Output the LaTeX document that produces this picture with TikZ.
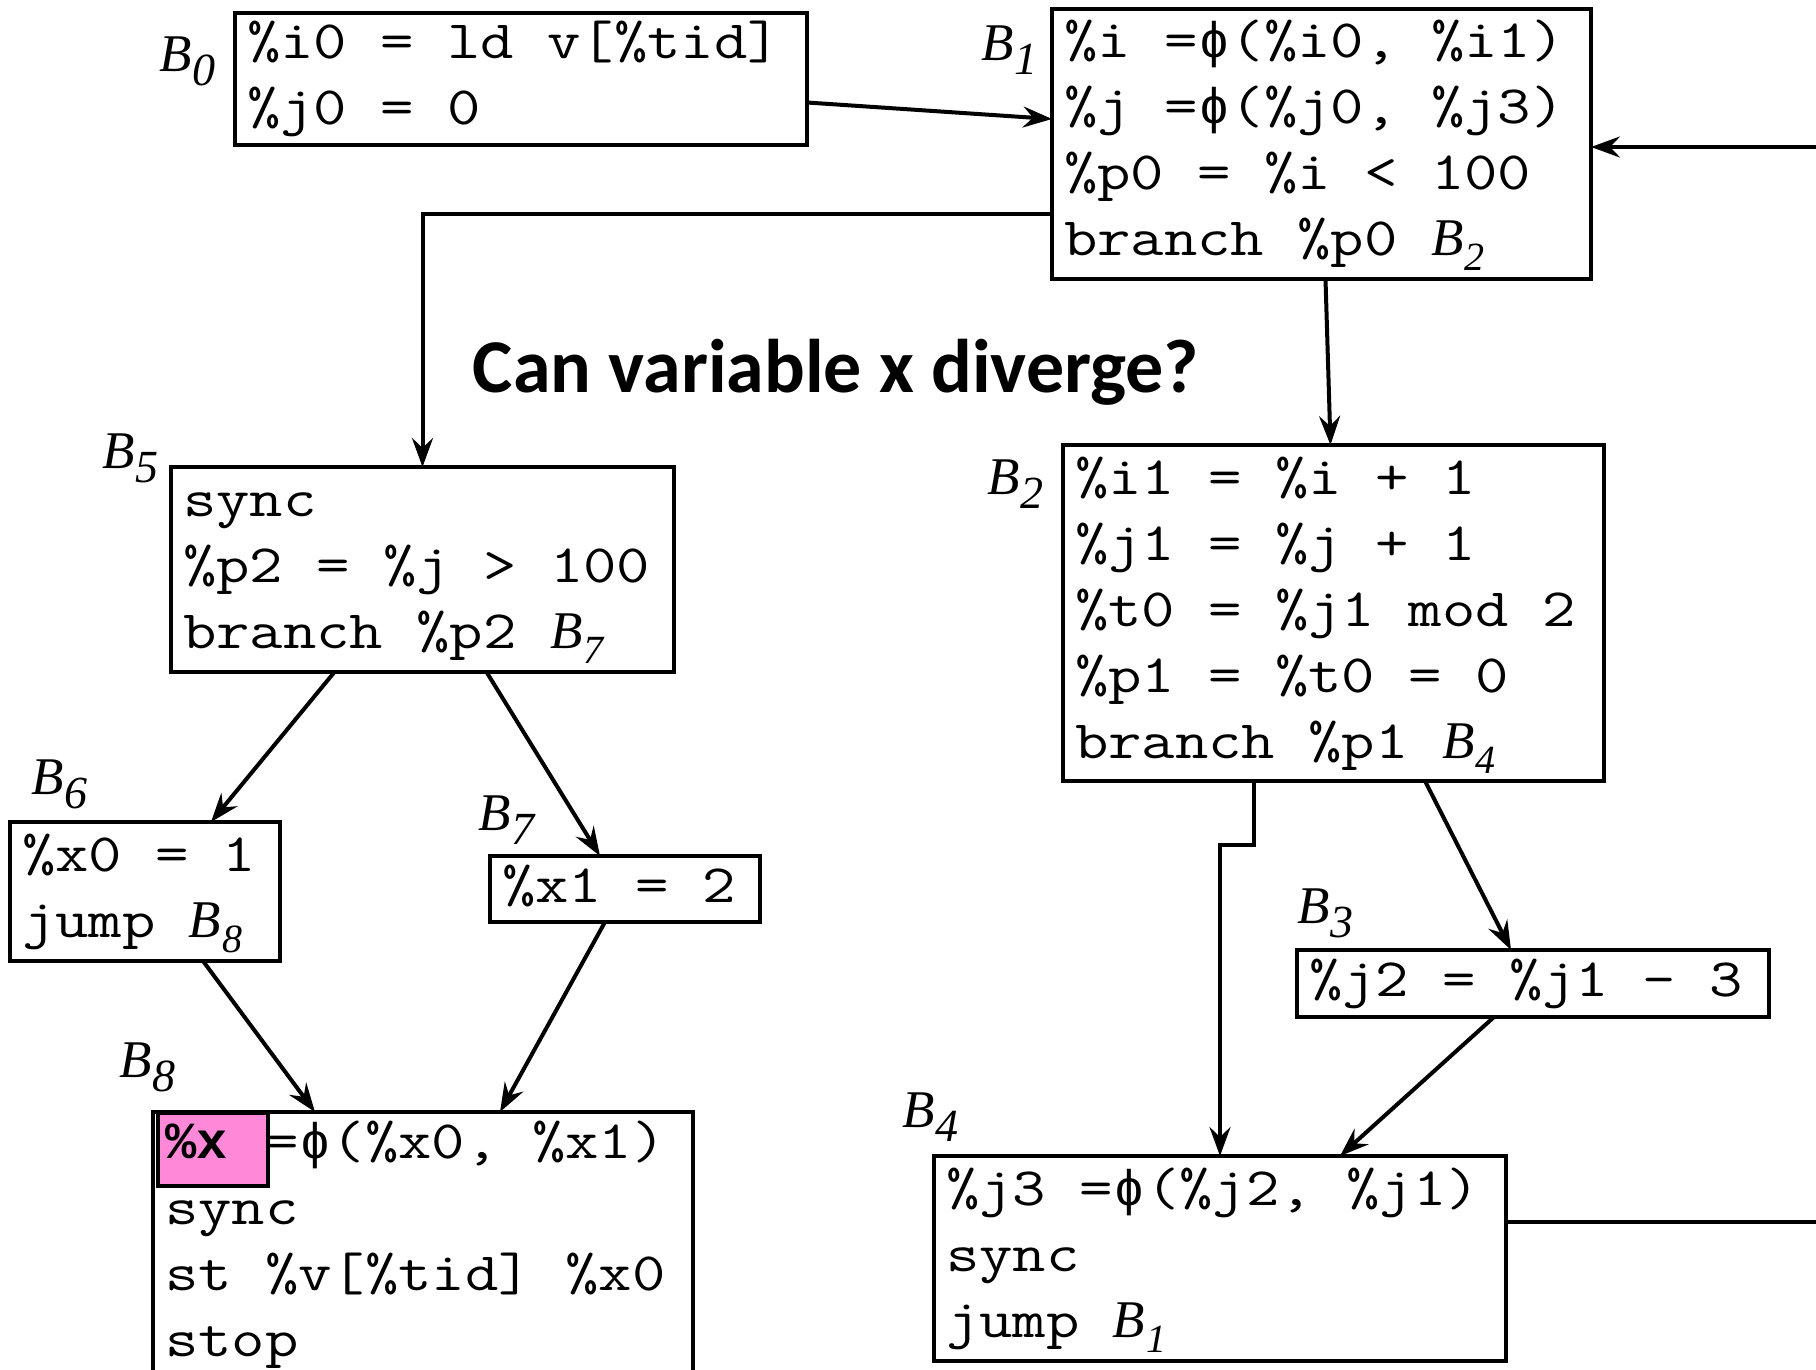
\documentclass[tikz,border=0pt]{standalone}
\usepackage{fontspec}
\setmainfont{Liberation Serif}
\setmonofont{Latin Modern Mono}[FakeStretch=1.2]
\newfontfamily\titlefont{Carlito}
\newfontfamily\symfont{Liberation Mono}
\usetikzlibrary{arrows.meta,calc}

% code font: monospace, cell width kept in \cellwd
\newlength\cellwd
\newcommand\codefont{\fontsize{54}{66}\selectfont\ttfamily\settowidth{\cellwd}{0}}
% block name labels (large) and block names inside code
\newcommand\Bl[1]{{\rmfamily\itshape\fontsize{53}{53}\selectfont B\kern1pt\raisebox{-14pt}{\fontsize{46}{46}\selectfont #1}}}
\newcommand\Bi[1]{{\rmfamily\itshape\fontsize{53}{53}\selectfont B\kern1pt\raisebox{-15pt}{\fontsize{40}{40}\selectfont #1}}}
% phi and bold operand, each kept to the monospace cell width
\newcommand\phis{\makebox[\cellwd]{\fontsize{50}{50}\symfont ϕ}}
\newcommand\bx{\makebox[2\cellwd][l]{\fontsize{52}{52}\symfont\bfseries\%x}}
% one code line: fixed strut, word spaces one cell wide
\newcommand\cl[1]{\rule[-20pt]{0pt}{66pt}\mbox{\spaceskip=\cellwd\xspaceskip=\cellwd\relax #1}}
\definecolor{hlpink}{RGB}{255,136,216}

\tikzset{
  blk/.style={draw, line width=4pt, anchor=north west, outer sep=0pt,
    align=left, inner xsep=12pt, inner ysep=0pt, font=\codefont},
  lbl/.style={inner sep=0pt, anchor=base west},
  edge/.style={line width=4pt, -{Stealth[length=29pt,width=21pt,inset=10pt]}},
  wire/.style={line width=4pt},
}

\begin{document}
\begin{tikzpicture}[x=1pt,y=-1pt]
\useasboundingbox (0,0) rectangle (1816,1370);

% highlight behind %x
\node[draw, line width=3.5pt, fill=hlpink, anchor=north west, outer sep=0pt,
      inner sep=0pt, minimum width=110pt, minimum height=73pt] (hl) at (158,1113) {};

% basic blocks
\node[blk, text width=548pt, minimum height=131pt] (b0) at (235,13)
  {\cl{\%i0 = ld v[\%tid]}\\\cl{\%j0 = 0}};
\node[blk, text width=515pt, minimum height=270pt] (b1) at (1052,9)
  {\cl{\%i =\phis(\%i0, \%i1)}\\\cl{\%j =\phis(\%j0, \%j3)}\\\cl{\%p0 = \%i < 100}\\\cl{branch \%p0 \Bi{2}}};
\node[blk, text width=479pt, minimum height=205pt] (b5) at (171,467)
  {\cl{sync}\\\cl{\%p2 = \%j > 100}\\\cl{branch \%p2 \Bi{7}}};
\node[blk, text width=246pt, minimum height=139pt] (b6) at (10,822)
  {\cl{\%x0 = 1}\\\cl{jump \Bi{8}}};
\node[blk, text width=246pt, minimum height=66pt] (b7) at (490,856)
  {\cl{\%x1 = 2}};
\node[blk, text width=516pt, minimum height=259pt] (b8) at (153,1112)
  {\cl{\bx{} =\phis(\%x0, \%x1)}\\\cl{sync}\\\cl{st \%v[\%tid] \%x0}\\\cl{stop}};
\node[blk, text width=517pt, minimum height=336pt] (b2) at (1063,445)
  {\cl{\%i1 = \%i + 1}\\\cl{\%j1 = \%j + 1}\\\cl{\%t0 = \%j1 mod 2}\\\cl{\%p1 = \%t0 = 0}\\\cl{branch \%p1 \Bi{4}}};
\node[blk, text width=448pt, minimum height=67pt] (b3) at (1297,950)
  {\cl{\%j2 = \%j1 - 3}};
\node[blk, text width=548pt, minimum height=205pt] (b4) at (934,1156)
  {\cl{\%j3 =\phis(\%j2, \%j1)}\\\cl{sync}\\\cl{jump \Bi{1}}};

% block labels
\node[lbl] (l0) at (159,72) {\Bl{0}};
\node[lbl] (l1) at (981,61) {\Bl{1}};
\node[lbl] (l2) at (987,494) {\Bl{2}};
\node[lbl] (l3) at (1297,923) {\Bl{3}};
\node[lbl] (l4) at (902,1127) {\Bl{4}};
\node[lbl] (l5) at (102,468) {\Bl{5}};
\node[lbl] (l6) at (31,794) {\Bl{6}};
\node[lbl] (l7) at (478,830) {\Bl{7}};
\node[lbl] (l8) at (119,1077) {\Bl{8}};

% question
\node[font=\titlefont\bfseries\fontsize{76}{76}\selectfont, inner sep=0pt] (q) at (836,372)
  {Can variable x diverge?};

% control flow
\coordinate (rin) at (1830,147);
\coordinate (rout) at (1830,1222);
\draw[edge] ([yshift=-23.5pt]b0.east) -- ([yshift=25pt]b1.west);
\draw[edge] (rin) -- (b1.east |- rin);
\draw[edge] ([yshift=-70pt]b1.west) -| (b5.north);
\draw[edge] ([xshift=4pt]b1.south) -- ([xshift=-3pt]b2.north);
\draw[edge] ([xshift=-88pt]b5.south) -- ([xshift=66pt]b6.north);
\draw[edge] ([xshift=64pt]b5.south) -- ([xshift=-25pt]b7.north);
\draw[edge] ([xshift=58pt]b6.south) -- ([xshift=-108pt]b8.north);
\draw[edge] ([xshift=-20pt]b7.south) -- ([xshift=77pt]b8.north);
\draw[edge] ([xshift=-79.5pt]b2.south) -- ++(0,64) -| (b4.north);
\draw[edge] ([xshift=91.5pt]b2.south) -- ([xshift=-22pt]b3.north);
\draw[edge] ([xshift=-39pt]b3.south) -- ([xshift=120pt]b4.north);
\draw[wire] ([yshift=36.5pt]b4.east) -- (rout);
\end{tikzpicture}
\end{document}
